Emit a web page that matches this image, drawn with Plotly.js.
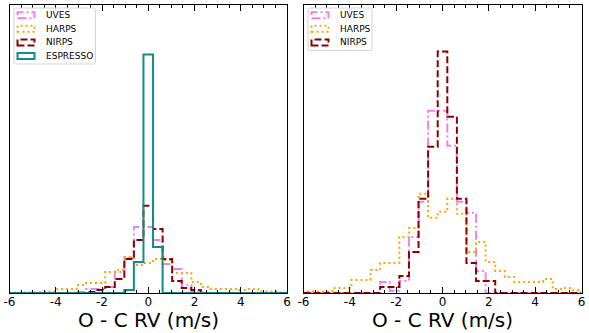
<!DOCTYPE html>
<html>
<head>
<meta charset="utf-8">
<script src="https://cdn.plot.ly/plotly-3.0.1.min.js"></script>
<style>html,body{margin:0;padding:0;background:#fff}#chart{width:589px;height:333px}</style>
</head>
<body>
<div id="chart"></div>
<script>
// Shared histogram bin edges (m/s)
const binEdges = [-6, -5.586, -5.172, -4.759, -4.345, -3.931, -3.517, -3.103, -2.690, -2.276,
  -1.862, -1.448, -1.034, -0.621, -0.207, 0.207, 0.621, 1.034, 1.448, 1.862,
  2.276, 2.690, 3.103, 3.517, 3.931, 4.345, 4.759, 5.172, 5.586, 6];

// Left panel (relative bin heights)
const leftUVES     = [0,0,0,0,0,0,0,1,4,4,6,21,35,66,66,53,29,24,8,2,0,0,0,0,0,0,0,0,0];
const leftHARPS    = [0.5,0.5,1,1,1.5,4,4,8,10,10,21,23,36,28,30,34,33,20,20,11,6,4,4,4,3,4,1.5,1.5,0.5];
const leftNIRPS    = [0,0,0,0,0,0,0,0,1,3,6,14,34,53,87,64,34,12,5,3,0,0,0,0,0,0,0,0,0];
const leftESPRESSO = [0,0,0,0,0,0,0,0,0,0,0,0,3,31,238,46,0,0,0,0,0,0,0,0,0,0,0,0,0];

// Right panel (relative bin heights)
const rightUVES  = [0,0,0,0,0,0,0,0,11,2,12,56,91,182,182,147,91,80,22,0,0,0,0,0,0,0,0,0,0];
const rightHARPS = [1.5,1.5,1.5,5,5,13,13,23,30,30,56,65,99,75,81,94,79,41,51,31,22,16,11,11,11,14,4,5,3];
const rightNIRPS = [0,0,0,0,0,0,0,0,6,6,17,41,94,146,241,176,94,30,12,12,0,0,0,0,0,0,0,0,0];

const tickValues = [-6, -4, -2, 0, 2, 4, 6];
const tickLabels = ["-6", "-4", "-2", "0", "2", "4", "6"];
const leftNames  = ["UVES", "HARPS", "NIRPS", "ESPRESSO"];
const rightNames = ["UVES", "HARPS", "NIRPS"];
const xTitle = "O - C RV (m/s)";

const W = 589, H = 333;
const FONT = "DejaVu Sans, sans-serif";
const styles = {
  UVES:     {color: "#EE82EE", dash: "9px,3px,2px,3px"},
  HARPS:    {color: "#FFA500", dash: "2px,3px"},
  NIRPS:    {color: "#8B0000", dash: "7px,3px"},
  ESPRESSO: {color: "#108c8c", dash: "solid"}
};

function stepTrace(edges, vals, name, xa, ya) {
  const x = [edges[0]], y = [0];
  for (let i = 0; i < vals.length; i++) {
    x.push(edges[i], edges[i + 1]);
    y.push(vals[i], vals[i]);
  }
  x.push(edges[edges.length - 1]); y.push(0);
  return {type: "scatter", mode: "lines", x, y, name, xaxis: xa, yaxis: ya,
    line: {color: styles[name].color, dash: styles[name].dash, width: 2},
    hoverinfo: "skip", showlegend: false};
}

const data = [
  stepTrace(binEdges, leftUVES, "UVES", "x", "y"),
  stepTrace(binEdges, leftHARPS, "HARPS", "x", "y"),
  stepTrace(binEdges, leftNIRPS, "NIRPS", "x", "y"),
  stepTrace(binEdges, leftESPRESSO, "ESPRESSO", "x", "y"),
  stepTrace(binEdges, rightUVES, "UVES", "x2", "y2"),
  stepTrace(binEdges, rightHARPS, "HARPS", "x2", "y2"),
  stepTrace(binEdges, rightNIRPS, "NIRPS", "x2", "y2")
];

const px = v => v / W;
const py = v => 1 - v / H;

function xaxisDef(l, r) {
  return {
    domain: [px(l), px(r)], range: [-6, 6],
    showgrid: false, zeroline: false,
    showline: true, linecolor: "#000", linewidth: 1, mirror: "allticks",
    ticks: "inside", ticklen: 6, tickwidth: 1, tickcolor: "#000",
    tickvals: tickValues, ticktext: tickLabels, ticklabelstandoff: -2,
    tickfont: {family: FONT, size: 12, color: "#000"},
    minor: {ticks: "inside", ticklen: 3, tickwidth: 1, tickcolor: "#000", dtick: 0.5, tick0: 0, showgrid: false}
  };
}
function yaxisDef(anchor) {
  return {
    domain: [py(293), py(4.5)], range: [0, 288], anchor,
    showgrid: false, zeroline: false, showticklabels: false, ticks: "",
    showline: true, linecolor: "#000", linewidth: 1, mirror: true
  };
}

const xa1 = xaxisDef(9.5, 287); xa1.anchor = "y";
const xa2 = xaxisDef(303.5, 581.5); xa2.anchor = "y2";

// Custom matplotlib-style legends (box + patch handles + text)
const shapes = [], annotations = [];
function roundedRect(x0, y0, x1, y1, r) {
  const X = v => px(v), Y = v => py(v);
  return `M${X(x0 + r)},${Y(y0)} L${X(x1 - r)},${Y(y0)} Q${X(x1)},${Y(y0)} ${X(x1)},${Y(y0 + r)} ` +
    `L${X(x1)},${Y(y1 - r)} Q${X(x1)},${Y(y1)} ${X(x1 - r)},${Y(y1)} L${X(x0 + r)},${Y(y1)} ` +
    `Q${X(x0)},${Y(y1)} ${X(x0)},${Y(y1 - r)} L${X(x0)},${Y(y0 + r)} Q${X(x0)},${Y(y0)} ${X(x0 + r)},${Y(y0)} Z`;
}
function addLegend(names, bx0, bx1, by0, by1) {
  shapes.push({type: "path", xref: "paper", yref: "paper", path: roundedRect(bx0, by0, bx1, by1, 2),
    fillcolor: "rgba(255,255,255,0.85)", line: {color: "#d4d4d4", width: 1}, layer: "above"});
  names.forEach((n, i) => {
    const cy = 15.2 + i * 13.6;
    shapes.push({type: "rect", xref: "paper", yref: "paper",
      x0: px(bx0 + 3.5), x1: px(bx0 + 20.5), y0: py(cy + 3), y1: py(cy - 3),
      fillcolor: "rgba(0,0,0,0)", line: {color: styles[n].color, dash: styles[n].dash, width: 2}, layer: "above"});
    annotations.push({xref: "paper", yref: "paper", x: px(bx0 + 29.5), y: py(cy), xanchor: "left", yanchor: "middle",
      text: n, showarrow: false, font: {family: FONT, size: 9, color: "#000"}});
  });
}
addLegend(leftNames, 14, 95.5, 8, 64);
addLegend(rightNames, 308, 372, 8, 50.5);

// Axis titles placed under each panel
[[9.5, 287], [303.5, 581.5]].forEach(([l, r]) => {
  annotations.push({xref: "paper", yref: "paper", x: px((l + r) / 2), y: py(320), xanchor: "center", yanchor: "middle",
    text: xTitle, showarrow: false, borderpad: 0, font: {family: FONT, size: 20, color: "#000"}});
});

const layout = {
  width: W, height: H, margin: {l: 0, r: 0, t: 0, b: 0},
  paper_bgcolor: "#fff", plot_bgcolor: "#fff",
  xaxis: xa1, yaxis: yaxisDef("x"),
  xaxis2: xa2, yaxis2: yaxisDef("x2"),
  shapes, annotations, showlegend: false,
  font: {family: FONT}
};

Plotly.newPlot("chart", data, layout, {staticPlot: true, displayModeBar: false});
</script>
</body>
</html>
